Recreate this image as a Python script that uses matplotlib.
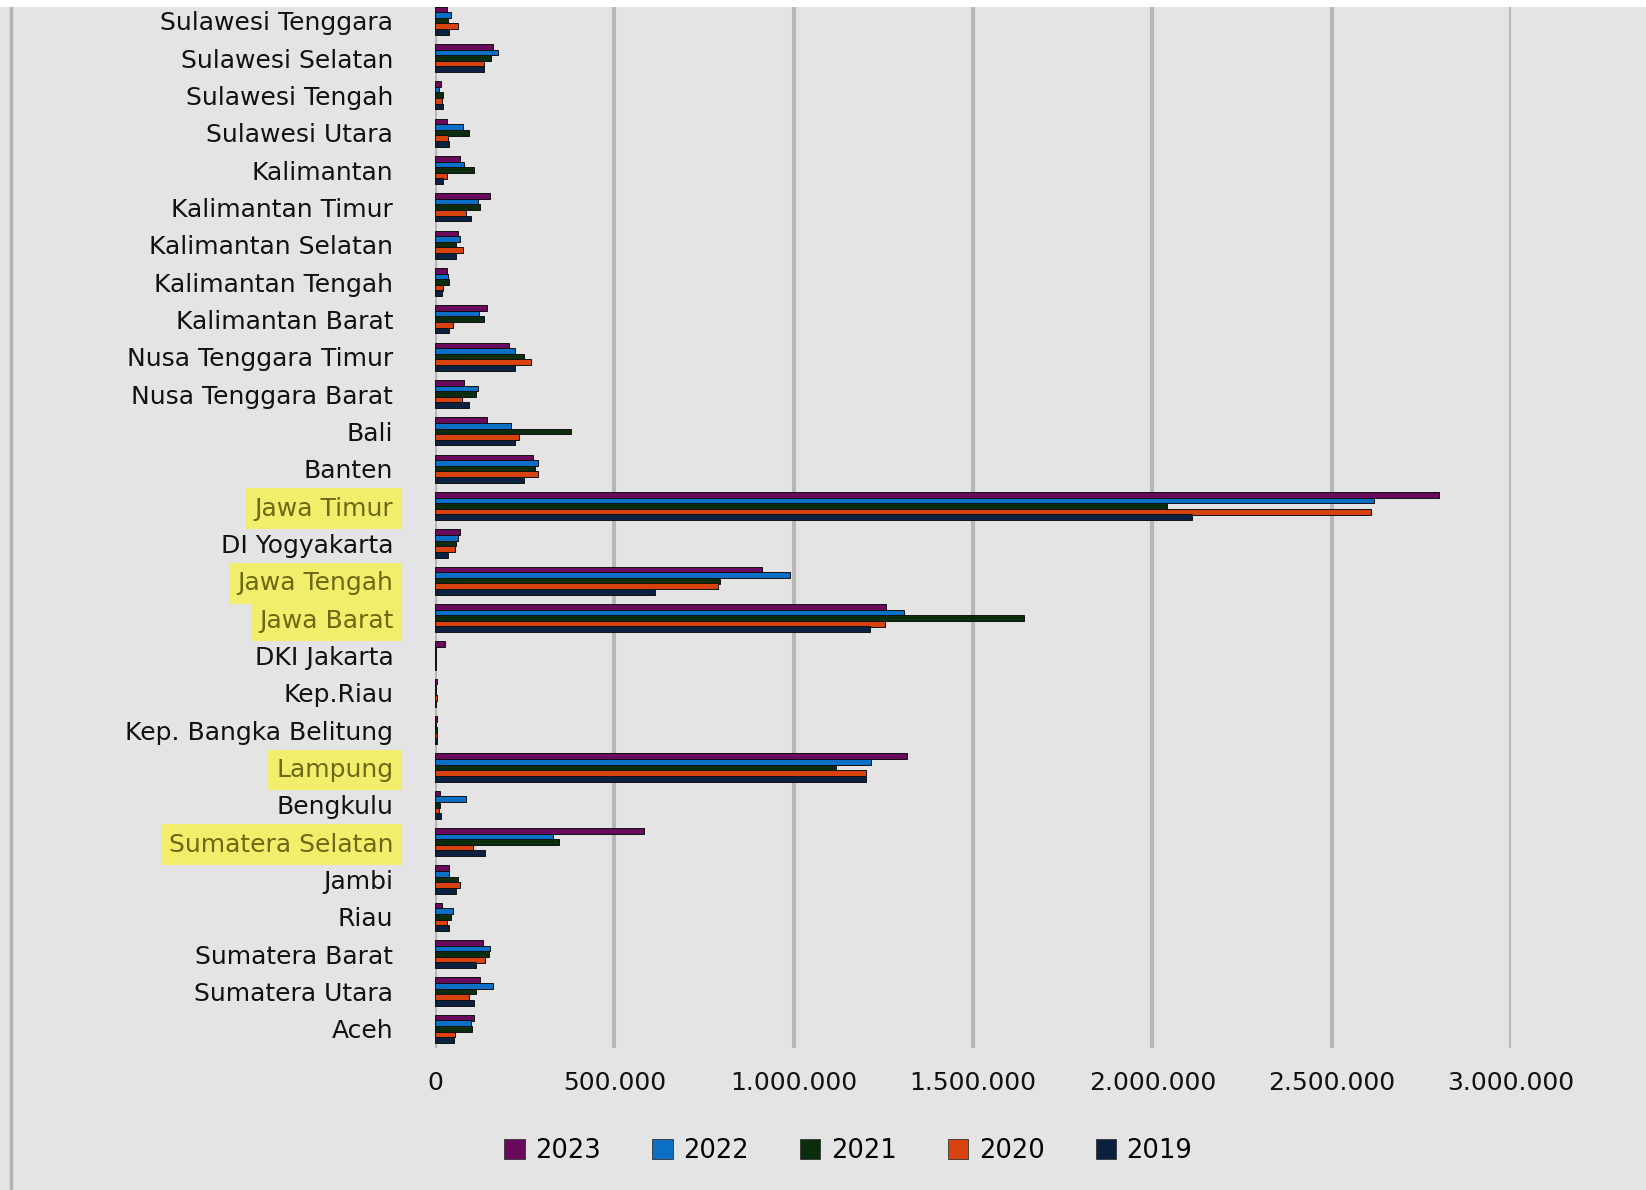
import numpy as np
import matplotlib
matplotlib.use('Agg')
import matplotlib.pyplot as plt
from matplotlib.ticker import FuncFormatter
from matplotlib.patches import Patch, Rectangle
from matplotlib.lines import Line2D

# provinces listed bottom -> top, as they appear on the chart
provinces = ['Aceh', 'Sumatera Utara', 'Sumatera Barat', 'Riau', 'Jambi',
             'Sumatera Selatan', 'Bengkulu', 'Lampung', 'Kep. Bangka Belitung',
             'Kep.Riau', 'DKI Jakarta', 'Jawa Barat', 'Jawa Tengah', 'DI Yogyakarta',
             'Jawa Timur', 'Banten', 'Bali', 'Nusa Tenggara Barat', 'Nusa Tenggara Timur',
             'Kalimantan Barat', 'Kalimantan Tengah', 'Kalimantan Selatan',
             'Kalimantan Timur', 'Kalimantan', 'Sulawesi Utara', 'Sulawesi Tengah',
             'Sulawesi Selatan', 'Sulawesi Tenggara']

years = ['2023', '2022', '2021', '2020', '2019']

# values in thousands
v2023 = [109, 126, 133, 20, 38, 582, 14, 1315, 5, 5, 28, 1258, 912, 71, 2800, 273,
         144, 82, 206, 144, 34, 63, 152, 70, 33, 17, 161, 33]
v2022 = [100, 161, 154, 51, 38, 329, 87, 1215, 4, 3, 3, 1309, 990, 63, 2618, 287,
         212, 119, 223, 124, 37, 70, 119, 82, 77, 12, 175, 45]
v2021 = [102, 115, 151, 46, 64, 347, 14, 1117, 5, 3, 2, 1642, 796, 59, 2042, 280,
         378, 113, 249, 138, 38, 59, 126, 108, 96, 21, 156, 36]
v2020 = [57, 94, 139, 33, 70, 105, 12, 1201, 5, 6, 3, 1254, 788, 55, 2610, 287,
         235, 75, 268, 51, 21, 77, 87, 33, 37, 20, 136, 64]
v2019 = [53, 109, 113, 38, 59, 139, 16, 1203, 5, 3, 2, 1213, 614, 35, 2111, 249,
         223, 94, 223, 40, 20, 59, 101, 21, 38, 21, 138, 38]

highlighted = ['Jawa Timur', 'Jawa Tengah', 'Jawa Barat', 'Lampung', 'Sumatera Selatan']

colors = ['#6a0a5c', '#0b6fc6', '#0b2d0e', '#d8420f', '#0c2140']
bg = '#e4e4e4'

series = [v2023, v2022, v2021, v2020, v2019]
offsets = [0.30, 0.15, 0.0, -0.15, -0.30]

fig = plt.figure(figsize=(16.46, 11.90), dpi=100, facecolor=bg)
ax = fig.add_axes([435/1646, 1 - 1047.5/1190, 1076/1646, 1045.5/1190])
ax.set_facecolor(bg)

y = np.arange(len(provinces))
for vals, off, c, yr in zip(series, offsets, colors, years):
    ax.barh(y + off, np.array(vals) * 1000, height=0.155, color=c,
            edgecolor='#111111', linewidth=0.7, label=yr, zorder=3)

ax.set_xlim(0, 3000000)
ax.set_ylim(-0.5, len(provinces) - 0.5)
ax.set_xticks(np.arange(0, 3000001, 500000))
ax.xaxis.set_major_formatter(FuncFormatter(lambda v, p: f'{int(v):,}'.replace(',', '.')))
ax.grid(axis='x', color='#b7b7b7', linewidth=3, zorder=0)
ax.grid(axis='y', visible=False)
for s in ax.spines.values():
    s.set_visible(False)

ax.set_yticks(y)
ax.set_yticklabels(provinces, fontsize=18, color='#111111')
ax.tick_params(axis='y', length=0, pad=30)
ax.tick_params(axis='x', length=0, pad=17, labelsize=18, labelcolor='#111111')

for lab in ax.get_yticklabels():
    if lab.get_text() in highlighted:
        lab.set_color('#6b6912')
        lab.set_bbox(dict(facecolor='#f2ee6c', edgecolor='none', pad=6))

handles = [Patch(facecolor=c, edgecolor='#333333', linewidth=0.6) for c in colors]
fig.legend(handles, years, loc='center', bbox_to_anchor=(808/1568, 1 - 1097/1134),
           ncol=5, frameon=False, fontsize=18.5, handlelength=0.8, handleheight=0.8,
           handletextpad=0.4, columnspacing=2.0)

# white strip at top and thin frame line on the left, as in the screenshot
fig.patches.append(Rectangle((0, 1 - 7/1190), 1, 7/1190, transform=fig.transFigure,
                             facecolor='white', edgecolor='none', zorder=10))
fig.add_artist(Line2D([11/1646, 11/1646], [0, 1 - 7/1190], color='#b3b3b3', linewidth=2.5))

fig.savefig('out.png', dpi=100, facecolor=bg)
